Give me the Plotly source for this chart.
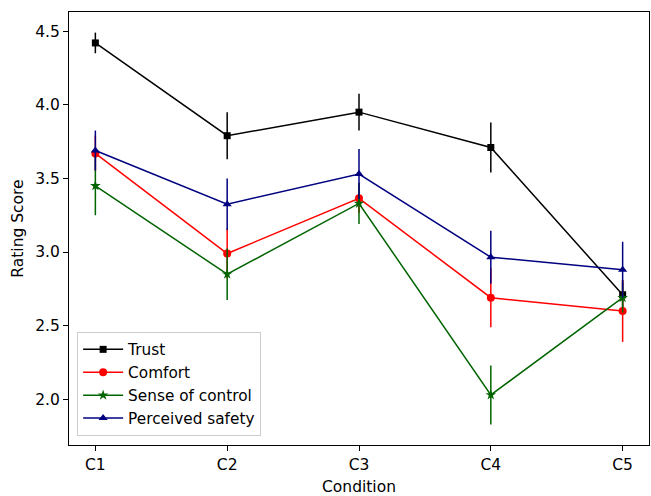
import plotly.graph_objects as go

conditions = [1, 2, 3, 4, 5]
tick_labels = ["C1", "C2", "C3", "C4", "C5"]

trust = [4.42, 3.79, 3.95, 3.71, 2.71]
trust_err = [0.07, 0.16, 0.125, 0.17, 0.10]

comfort = [3.67, 2.99, 3.365, 2.69, 2.60]
comfort_err = [0.12, 0.17, 0.10, 0.20, 0.21]

control = [3.45, 2.85, 3.33, 2.03, 2.69]
control_err = [0.20, 0.175, 0.14, 0.20, 0.10]

safety = [3.69, 3.325, 3.53, 2.965, 2.88]
safety_err = [0.135, 0.175, 0.17, 0.18, 0.19]

series = [
    ("Trust", trust, trust_err, "black", "square", 7),
    ("Comfort", comfort, comfort_err, "#ff0000", "circle", 8),
    ("Sense of control", control, control_err, "#006400", "star", 8),
    ("Perceived safety", safety, safety_err, "#000080", "triangle-up", 8),
]

fig = go.Figure()
for name, vals, errs, color, sym, size in series:
    fig.add_trace(go.Scatter(
        x=conditions, y=vals, name=name, mode="lines+markers",
        line=dict(color=color, width=1.5),
        marker=dict(color=color, symbol=sym, size=size, line=dict(width=0)),
        error_y=dict(type="data", array=errs, visible=True, color=color,
                     thickness=1.5, width=0),
    ))

font = "DejaVu Sans, sans-serif"
fs = 15.5
fig.update_layout(
    width=651, height=496,
    margin=dict(l=69, r=2, t=12, b=51, autoexpand=False),
    paper_bgcolor="white", plot_bgcolor="white",
    font=dict(family=font, size=fs, color="black"),
    showlegend=True,
    legend=dict(x=0.014, y=0.021, xanchor="left", yanchor="bottom",
                bgcolor="rgba(255,255,255,0.8)", bordercolor="#cccccc",
                borderwidth=1, font=dict(family=font, size=15.3, color="black"),
                tracegroupgap=0, itemwidth=40),
    xaxis=dict(range=[0.8, 5.2], tickmode="array", tickvals=conditions,
               ticktext=tick_labels, showgrid=False, zeroline=False,
               showline=True, linecolor="black", linewidth=1, mirror=True,
               ticks="outside", ticklen=5, tickcolor="black", automargin=False,
               tickfont=dict(family=font, size=fs, color="black"),
               title=dict(text="Condition", standoff=10,
                          font=dict(family=font, size=fs, color="black"))),
    yaxis=dict(range=[1.69, 4.63], tickmode="array",
               tickvals=[2.0, 2.5, 3.0, 3.5, 4.0, 4.5],
               ticktext=["2.0", "2.5", "3.0", "3.5", "4.0", "4.5"],
               showgrid=False, zeroline=False, automargin=False,
               showline=True, linecolor="black", linewidth=1, mirror=True,
               ticks="outside", ticklen=5, tickcolor="black",
               tickfont=dict(family=font, size=fs, color="black"),
               title=dict(text="Rating Score", standoff=7,
                          font=dict(family=font, size=fs, color="black"))),
)

fig.write_html("out.html", config={"displayModeBar": False},
               post_script="document.body.style.margin='0';")
